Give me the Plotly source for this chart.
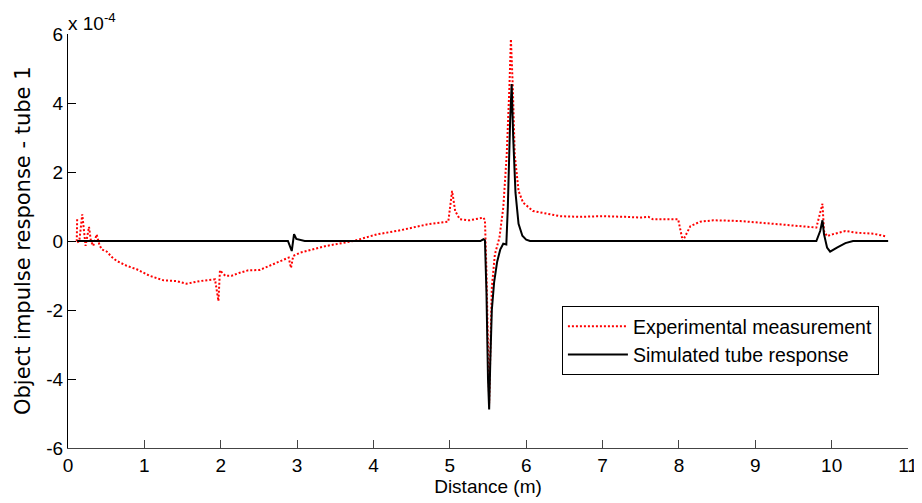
import plotly.graph_objects as go

# Values are in units of 1e-4
exp_x = [0.12, 0.114, 0.148, 0.187, 0.23, 0.275, 0.30, 0.33, 0.375, 0.41, 0.44, 0.51, 0.57, 0.64,
         0.77, 0.90, 1.07, 1.25, 1.42, 1.55, 1.73, 1.925, 1.97, 1.99, 2.06, 2.14, 2.25, 2.36,
         2.51, 2.78, 2.89, 2.92, 2.95, 3.04, 3.39, 3.74, 4.04, 4.35, 4.70, 4.87, 4.98, 5.03,
         5.07, 5.13, 5.26, 5.44, 5.46, 5.48, 5.505, 5.515, 5.53, 5.55, 5.59, 5.65, 5.70,
         5.745, 5.78, 5.80, 5.825, 5.85, 5.90, 5.96, 6.09, 6.27, 6.44, 6.70, 7.0, 7.3,
         7.5, 7.6, 7.66, 7.99, 8.05, 8.15, 8.28, 8.45, 8.8, 9.23, 9.67, 9.80, 9.88, 9.90,
         9.94, 10.02, 10.18, 10.33, 10.55, 10.70]
exp_y = [0.63, -0.05, 0.0, 0.77, -0.14, 0.41, 0.0, -0.14, 0.19, -0.1, -0.24, -0.31, -0.46, -0.58,
         -0.72, -0.82, -1.01, -1.14, -1.16, -1.24, -1.16, -1.11, -1.74, -0.85, -1.01, -1.01, -0.92, -0.85,
         -0.84, -0.58, -0.48, -0.78, -0.43, -0.34, -0.14, 0.0, 0.19, 0.31, 0.48, 0.53, 0.56, 1.45,
         0.87, 0.63, 0.60, 0.68, 0.60, -0.87, -4.25, -4.70, -3.28, -1.35, -0.39, 0.10, 0.97,
         2.5, 4.44, 5.85, 4.44, 2.5, 1.45, 1.11, 0.87, 0.79, 0.72, 0.70, 0.72, 0.70,
         0.68, 0.70, 0.63, 0.63, 0.0, 0.43, 0.56, 0.60, 0.58, 0.50, 0.43, 0.39, 1.08, 0.29,
         0.14, 0.20, 0.29, 0.24, 0.21, 0.14]

sim_x = [0.12, 2.88, 2.93, 2.96, 2.99, 3.05, 3.1, 5.40, 5.44, 5.46, 5.48, 5.50, 5.515, 5.53, 5.55,
         5.58, 5.62, 5.66, 5.70, 5.74, 5.76, 5.79, 5.81, 5.83, 5.86, 5.90, 5.95, 6.0, 6.05,
         9.80, 9.85, 9.88, 9.90, 9.94, 9.98, 10.07, 10.18, 10.28, 10.74]
sim_y = [0.0, 0.0, -0.29, 0.2, 0.06, 0.03, 0.0, 0.0, 0.05, 0.02, -1.5, -4.0, -4.88, -3.5, -2.0,
         -1.2, -0.6, -0.25, -0.08, -0.1, 1.0, 3.5, 4.55, 3.0, 1.4, 0.5, 0.15, 0.04, 0.0,
         0.0, 0.29, 0.6, 0.2, -0.19, -0.31, -0.19, -0.06, 0.0, 0.0]

x_ticks = list(range(0, 12))
y_ticks = [-6, -4, -2, 0, 2, 4, 6]
y_ticktext = ["-6", "-4", "-2", "0", "2", "4", "6"]

fig = go.Figure()
fig.add_trace(go.Scatter(x=exp_x, y=exp_y, mode="lines", name="Experimental measurement",
                         line=dict(color="#ff0000", width=2, dash="2px,2px")))
fig.add_trace(go.Scatter(x=sim_x, y=sim_y, mode="lines", name="Simulated tube response",
                         line=dict(color="black", width=2)))

# page body has an 8px default margin, so the figure is 8px smaller on each side
fig.update_layout(
    width=914, height=495,
    margin=dict(l=60, r=14, t=26, b=55, autoexpand=False),
    paper_bgcolor="white", plot_bgcolor="white",
    font=dict(family="Liberation Sans, Arial", size=19, color="black"),
    showlegend=True,
    legend=dict(x=0.588, y=0.343, xanchor="left", yanchor="top",
                bordercolor="black", borderwidth=1, bgcolor="white",
                font=dict(size=19.5), tracegroupgap=0, itemwidth=60),
    xaxis=dict(range=[0, 11], tickvals=x_ticks, ticks="inside", ticklen=8, tickcolor="#444",
               showline=True, linecolor="#444", linewidth=1, showgrid=False, zeroline=False,
               tickfont=dict(size=19), automargin=False,
               title=dict(text="Distance (m)", font=dict(size=19), standoff=4)),
    yaxis=dict(range=[-6, 6], tickvals=y_ticks, ticktext=y_ticktext, ticks="inside", ticklen=8,
               tickcolor="black", showline=True, linecolor="black", linewidth=1,
               showgrid=False, zeroline=False, tickfont=dict(size=19), automargin=False),
    annotations=[
        dict(text="x 10<sup>-4</sup>", x=0, y=1, xref="paper", yref="paper",
             xanchor="left", yanchor="bottom", showarrow=False, xshift=-2, yshift=-2,
             font=dict(size=19)),
        dict(text="Object impulse response - tube 1", x=0, y=0.5, xref="paper", yref="paper",
             xanchor="center", yanchor="middle", textangle=-90, showarrow=False,
             xshift=-45, font=dict(family="DejaVu Sans", size=21)),
    ],
)

fig.write_html("out.html")
